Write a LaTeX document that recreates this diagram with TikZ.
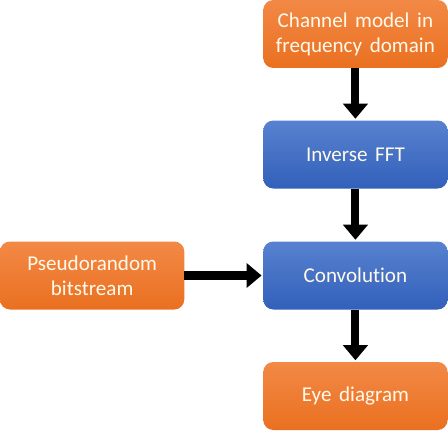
\documentclass[tikz,border=0pt]{standalone}
\usepackage{fontspec}
\setmainfont{Carlito}[Ligatures={NoCommon}, WordSpace=1.6]
\usepackage{tikz}
\usetikzlibrary{arrows.meta,positioning,shadings}
\definecolor{orangetop}{RGB}{242,137,70}
\definecolor{orangebot}{RGB}{234,112,32}
\definecolor{bluetop}{RGB}{88,130,208}
\definecolor{bluebot}{RGB}{50,96,186}
\definecolor{boxtext}{RGB}{255,250,235}
\tikzset{
	flow/.style={-{Triangle[width=24pt,length=15pt]}, line width=8pt, shorten >=1.5pt},
	block/.style={rounded corners=0.35cm, minimum width=6.45cm, minimum height=2.38cm, align=center, text=boxtext, font=\fontsize{21}{25}\selectfont},
	orangebox/.style={block, top color=orangetop, bottom color=orangebot},
	bluebox/.style={block, top color=bluetop, bottom color=bluebot}
}

\begin{document}
\begin{tikzpicture}
    \useasboundingbox (0,0) rectangle (15.68,15.085);
    \node[orangebox] (chan) at (12.44,13.895) {Channel model in\\frequency domain};
    \node[bluebox] (ifft) at (12.44,9.6775) {Inverse FFT};
    \node[bluebox] (conv) at (12.44,5.4425) {Convolution};
    \node[orangebox] (prbs) at (3.225,5.4425) {Pseudorandom\\bitstream};
    \node[orangebox] (eye) at (12.44,1.225) {Eye diagram};

    \path (chan) edge[flow] (ifft);
    \path (ifft) edge[flow] (conv);
    \path (prbs) edge[flow] (conv);
    \path (conv) edge[flow] (eye);
\end{tikzpicture}
\end{document}
